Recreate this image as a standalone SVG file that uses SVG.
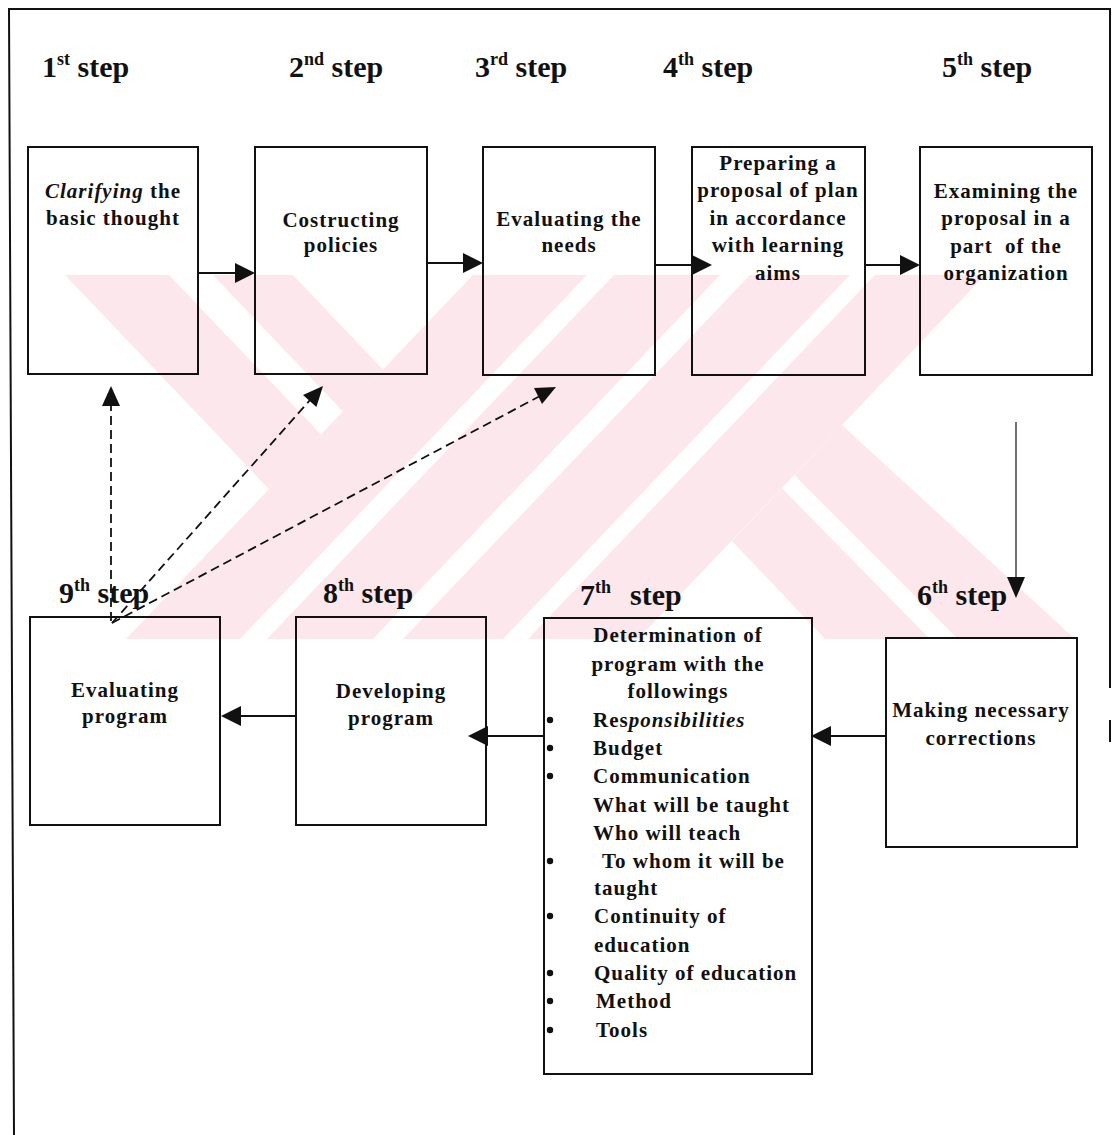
<svg xmlns="http://www.w3.org/2000/svg" width="1114" height="1135" viewBox="0 0 1114 1135">
  <defs>
    <style>
      .frame { fill: none; stroke: #111; stroke-width: 2; }
      .box { fill: none; stroke: #111; stroke-width: 2; }
      .step { font-family: "Liberation Serif", "Times New Roman", serif; font-weight: bold; font-size: 30px; fill: #111; }
      .sup { font-size: 18px; }
      .lbl { font-family: "Liberation Serif", "Times New Roman", serif; font-weight: bold; font-size: 21px; letter-spacing: 1px; fill: #111; text-anchor: middle; }
      .item { font-family: "Liberation Serif", "Times New Roman", serif; font-weight: bold; font-size: 21px; letter-spacing: 1px; fill: #111; }
      .it { font-style: italic; }
      .flow { stroke: #111; stroke-width: 2; fill: none; }
      .down { stroke: #111; stroke-width: 1.2; fill: none; }
      .dash { stroke: #111; stroke-width: 1.8; fill: none; stroke-dasharray: 9 5; }
      .head { fill: #111; stroke: none; }
      .wm { fill: #fce8ec; stroke: none; }
    </style>
    <clipPath id="wmClip">
      <rect x="0" y="275" width="1114" height="364"/>
    </clipPath>
  </defs>

  <rect x="0" y="0" width="1114" height="1135" fill="#ffffff"/>

  <!-- light background emblem made of diagonal bands -->
  <g id="emblem" clip-path="url(#wmClip)">
    <polygon class="wm" points="65,275 169,275 321,434.6 269,489.2"/>
    <polygon class="wm" points="213,275 293,275 383,369.5 343,411.5"/>
    <polygon class="wm" points="473,275 587,275 240,639 126,639"/>
    <polygon class="wm" points="614,275 720,275 373,639 267,639"/>
    <polygon class="wm" points="750,275 850,275 503,639 403,639"/>
    <polygon class="wm" points="875,275 985,275 638,639 528,639"/>
    <polygon class="wm" points="732,541 782,488.3 930,639 825,639"/>
    <polygon class="wm" points="794.5,475.2 842,425 1075,639 958,639"/>
  </g>

  <!-- outer frame -->
  <g id="frame">
    <polyline class="frame" points="14,1135 9,9 1110,9 1110,688"/>
    <line class="frame" x1="1110" y1="720" x2="1110" y2="742"/>
  </g>

  <!-- step headings -->
  <g id="headings">
    <text class="step" x="42" y="77">1<tspan class="sup" dy="-12">st</tspan><tspan dy="12"> step</tspan></text>
    <text class="step" x="289" y="77">2<tspan class="sup" dy="-12">nd</tspan><tspan dy="12"> step</tspan></text>
    <text class="step" x="475" y="77">3<tspan class="sup" dy="-12">rd</tspan><tspan dy="12"> step</tspan></text>
    <text class="step" x="663" y="77">4<tspan class="sup" dy="-12">th</tspan><tspan dy="12"> step</tspan></text>
    <text class="step" x="942" y="77">5<tspan class="sup" dy="-12">th</tspan><tspan dy="12"> step</tspan></text>
    <text class="step" x="917" y="605">6<tspan class="sup" dy="-12">th</tspan><tspan dy="12"> step</tspan></text>
    <text class="step" x="580" y="605">7<tspan class="sup" dy="-12">th</tspan><tspan x="630" dy="12">step</tspan></text>
    <text class="step" x="323" y="603">8<tspan class="sup" dy="-12">th</tspan><tspan dy="12"> step</tspan></text>
    <text class="step" x="59" y="603">9<tspan class="sup" dy="-12">th</tspan><tspan dy="12"> step</tspan></text>
  </g>

  <!-- step boxes -->
  <g id="step1">
    <rect class="box" x="28" y="147" width="170" height="227"/>
    <text class="lbl" x="113" y="198"><tspan class="it">Clarifying</tspan> the</text>
    <text class="lbl" x="113" y="225">basic thought</text>
  </g>
  <g id="step2">
    <rect class="box" x="255" y="147" width="172" height="227"/>
    <text class="lbl" x="341" y="227">Costructing</text>
    <text class="lbl" x="341" y="252">policies</text>
  </g>
  <g id="step3">
    <rect class="box" x="483" y="147" width="172" height="228"/>
    <text class="lbl" x="569" y="226">Evaluating the</text>
    <text class="lbl" x="569" y="252">needs</text>
  </g>
  <g id="step4">
    <rect class="box" x="692" y="147" width="173" height="228"/>
    <text class="lbl" x="778" y="170">Preparing a</text>
    <text class="lbl" x="778" y="197">proposal of plan</text>
    <text class="lbl" x="778" y="225">in accordance</text>
    <text class="lbl" x="778" y="252">with learning</text>
    <text class="lbl" x="778" y="280">aims</text>
  </g>
  <g id="step5">
    <rect class="box" x="920" y="147" width="172" height="228"/>
    <text class="lbl" x="1006" y="198">Examining the</text>
    <text class="lbl" x="1006" y="225">proposal in a</text>
    <text class="lbl" x="1006" y="253" xml:space="preserve">part  of the</text>
    <text class="lbl" x="1006" y="280">organization</text>
  </g>
  <g id="step6">
    <rect class="box" x="886" y="638" width="191" height="209"/>
    <text class="lbl" x="981" y="717">Making necessary</text>
    <text class="lbl" x="981" y="745">corrections</text>
  </g>
  <g id="step7">
    <rect class="box" x="544" y="618" width="268" height="456"/>
    <text class="lbl" x="678" y="642">Determination of</text>
    <text class="lbl" x="678" y="671">program with the</text>
    <text class="lbl" x="678" y="698">followings</text>
    <g class="item">
      <text x="593" y="727">Res<tspan class="it">ponsibilities</tspan></text>
      <text x="593" y="755">Budget</text>
      <text x="593" y="783">Communication</text>
      <text x="593" y="812">What will be taught</text>
      <text x="593" y="840">Who will teach</text>
      <text x="602" y="868">To whom it will be</text>
      <text x="594" y="895">taught</text>
      <text x="594" y="923">Continuity of</text>
      <text x="594" y="952">education</text>
      <text x="594" y="980">Quality of education</text>
      <text x="596" y="1008">Method</text>
      <text x="596" y="1037">Tools</text>
    </g>
    <g class="head">
      <circle cx="550" cy="720" r="3.2"/>
      <circle cx="550" cy="748" r="3.2"/>
      <circle cx="550" cy="776" r="3.2"/>
      <circle cx="550" cy="861" r="3.2"/>
      <circle cx="550" cy="916" r="3.2"/>
      <circle cx="550" cy="973" r="3.2"/>
      <circle cx="550" cy="1001" r="3.2"/>
      <circle cx="550" cy="1030" r="3.2"/>
    </g>
  </g>
  <g id="step8">
    <rect class="box" x="296" y="617" width="190" height="208"/>
    <text class="lbl" x="391" y="698">Developing</text>
    <text class="lbl" x="391" y="725">program</text>
  </g>
  <g id="step9">
    <rect class="box" x="30" y="617" width="190" height="208"/>
    <text class="lbl" x="125" y="697">Evaluating</text>
    <text class="lbl" x="125" y="723">program</text>
  </g>

  <!-- connectors -->
  <g id="connectors">
    <line class="flow" x1="198" y1="273" x2="237" y2="273"/>
    <polygon class="head" points="255,273 235,263 235,283"/>
    <line class="flow" x1="427" y1="263" x2="465" y2="263"/>
    <polygon class="head" points="483,263 463,253 463,273"/>
    <line class="flow" x1="655" y1="265" x2="694" y2="265"/>
    <polygon class="head" points="712,265 692,255 692,275"/>
    <line class="flow" x1="865" y1="265" x2="902" y2="265"/>
    <polygon class="head" points="920,265 900,255 900,275"/>

    <line class="down" x1="1016" y1="422" x2="1016" y2="580"/>
    <polygon class="head" points="1016,598 1007,577 1025,577"/>

    <line class="flow" x1="886" y1="736" x2="829" y2="736"/>
    <polygon class="head" points="811,736 831,726 831,746"/>
    <line class="flow" x1="544" y1="736" x2="486" y2="736"/>
    <polygon class="head" points="468,736 488,726 488,746"/>
    <line class="flow" x1="296" y1="716" x2="239" y2="716"/>
    <polygon class="head" points="221,716 241,706 241,726"/>

    <line class="dash" x1="111" y1="621" x2="111" y2="404"/>
    <polygon class="head" points="111,386 102,406 120,406"/>
    <line class="dash" x1="112" y1="623" x2="311" y2="399"/>
    <polygon class="head" points="323,386 303,394.9 316.4,406.9"/>
    <line class="dash" x1="112" y1="623" x2="540" y2="396"/>
    <polygon class="head" points="556,387 534,388 542,404"/>
  </g>
</svg>
